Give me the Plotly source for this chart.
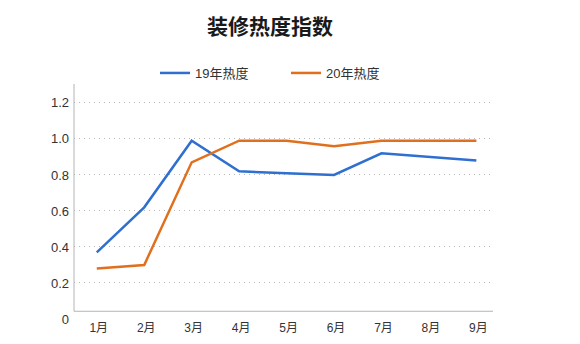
import plotly.graph_objects as go

months = ["1月", "2月", "3月", "4月", "5月", "6月", "7月", "8月", "9月"]
heat_2019 = [0.37, 0.62, 0.99, 0.82, 0.81, 0.80, 0.92, 0.90, 0.88]
heat_2020 = [0.28, 0.30, 0.87, 0.99, 0.99, 0.96, 0.99, 0.99, 0.99]
y_ticks = [0, 0.2, 0.4, 0.6, 0.8, 1.0, 1.2]
y_tick_text = ["0", "0.2", "0.4", "0.6", "0.8", "1.0", "1.2"]

FONT = "Liberation Sans, Noto Sans CJK SC"
CJK = "Noto Sans CJK SC"
BLUE = "#2e6fd0"
ORANGE = "#e0701e"
AXIS = "#b4b4b4"
base_y = 0.043  # where the axis lines sit

fig = go.Figure()
fig.add_trace(go.Scatter(x=months, y=heat_2019, name="19年热度", mode="lines",
                         line=dict(color=BLUE, width=2.5)))
fig.add_trace(go.Scatter(x=months, y=heat_2020, name="20年热度", mode="lines",
                         line=dict(color=ORANGE, width=2.5)))

fig.update_layout(
    width=580, height=344,
    margin=dict(l=74, r=87, t=84, b=25, autoexpand=False),
    paper_bgcolor="white", plot_bgcolor="white",
    font=dict(family=FONT, color="#333"),
    title=dict(text="装修热度指数", x=270 / 580, xanchor="center", xref="container",
               y=1 - 27 / 344, yanchor="middle", yref="container",
               font=dict(family=CJK, size=21, color="#1a1a1a", weight=600)),
    legend=dict(orientation="h", x=(155 - 74) / 419, xanchor="left",
                y=1 + (84 - 73) / 235, yanchor="middle",
                entrywidth=86, entrywidthmode="pixels",
                font=dict(family=FONT, size=13, color="#333"),
                bgcolor="rgba(0,0,0,0)"),
    showlegend=True,
)

fig.update_xaxes(type="category", range=[-0.48, 8.35], showgrid=False,
                 showline=False, zeroline=False, ticks="", automargin=False,
                 ticklabelstandoff=0, ticklabelshift=2,
                 tickfont=dict(family=FONT, size=12, color="#333"))
fig.update_yaxes(range=[0, 1.305], tickvals=y_ticks, ticktext=y_tick_text,
                 showgrid=True, gridcolor="#b8b8b8", griddash="1px,4px", gridwidth=1,
                 showline=False, zeroline=False, ticks="", automargin=False,
                 ticklabelstandoff=4,
                 tickfont=dict(family=FONT, size=13, color="#333"))

fig.add_shape(type="line", xref="paper", yref="y", x0=0, x1=0, y0=base_y, y1=1.305,
              line=dict(color=AXIS, width=1))
fig.add_shape(type="line", xref="paper", yref="y", x0=0, x1=1, y0=base_y, y1=base_y,
              line=dict(color=AXIS, width=1))

fig.write_html("out.html")
